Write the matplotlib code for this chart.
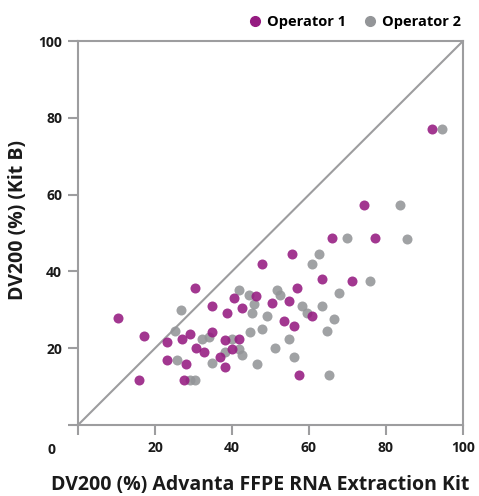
"""
DV200 comparison scatter: Advanta FFPE RNA Extraction Kit vs Kit B,
two operators, with identity line.
"""

import matplotlib
matplotlib.use("Agg")
import matplotlib.pyplot as plt
from matplotlib.lines import Line2D

plt.rcParams["font.family"] = ["Open Sans", "DejaVu Sans"]
plt.rcParams["font.weight"] = "bold"

# --- data ---
op1_x = [10.5, 17.2, 23.0, 26.9, 29.0, 30.6, 23.0, 28.1, 15.9, 27.5,
         30.3, 34.9, 34.9, 32.7, 38.8, 42.7, 38.2, 41.9, 40.1, 36.8,
         38.1, 40.6, 46.2, 47.9, 50.5, 53.5, 54.7, 56.1, 55.5, 56.8,
         57.4, 60.7, 63.3, 66.1, 71.2, 77.1, 74.3, 91.9]
op1_y = [27.9, 23.3, 21.7, 22.5, 23.7, 20.0, 17.0, 15.9, 11.7, 11.7,
         35.8, 31.1, 24.2, 18.9, 29.2, 30.6, 22.1, 22.3, 19.7, 17.6,
         15.2, 33.1, 33.7, 42.0, 31.9, 27.2, 32.4, 25.9, 44.6, 35.8,
         13.1, 28.5, 37.9, 48.6, 37.4, 48.6, 57.2, 77.2]

op2_x = [26.8, 25.1, 25.6, 29.1, 30.3, 32.1, 33.9, 34.7, 38.2, 39.9,
         41.9, 42.7, 44.7, 45.3, 41.9, 44.5, 45.7, 46.4, 47.9, 49.2,
         51.2, 51.8, 52.5, 54.8, 56.1, 58.1, 59.4, 60.7, 62.7, 63.3,
         64.7, 66.6, 65.3, 67.9, 70.0, 75.8, 83.6, 85.4, 94.5]
op2_y = [30.0, 24.5, 17.0, 11.7, 11.7, 22.3, 22.8, 16.1, 19.0, 22.4,
         19.8, 18.3, 24.2, 29.2, 35.1, 33.9, 31.6, 15.9, 25.0, 28.5,
         20.0, 35.2, 33.9, 22.4, 17.7, 31.1, 29.2, 42.0, 44.6, 31.1,
         24.5, 27.6, 13.1, 34.5, 48.6, 37.4, 57.2, 48.5, 77.2]

ticks = [0, 20, 40, 60, 80, 100]

PURPLE = "#951b81"
GRAY = "#939598"
AXIS_GRAY = "#9d9d9f"
TEXT = "#1a1a1a"

fig = plt.figure(figsize=(4.79, 4.96), dpi=100)
ax = fig.add_axes([0.1628, 0.1431, 0.8038, 0.7742])

ax.plot([0, 100], [0, 100], color=AXIS_GRAY, lw=1.5, zorder=1)
ax.scatter(op2_x, op2_y, s=52, color=GRAY, alpha=0.88, lw=0, zorder=2)
ax.scatter(op1_x, op1_y, s=52, color=PURPLE, alpha=0.88, lw=0, zorder=3)

ax.set_xlim(0, 100)
ax.set_ylim(0, 100)
ax.set_xticks(ticks)
ax.set_yticks(ticks)
ax.set_xticklabels([""] + [str(t) for t in ticks[1:]])
ax.set_yticklabels([""] + [str(t) for t in ticks[1:]])
# shared origin label sits in the bottom-left corner
ax.text(-0.068, -0.065, "0", transform=ax.transAxes, ha="center",
        va="center", fontsize=10, fontweight="bold", color=TEXT)

for s in ax.spines.values():
    s.set_color(AXIS_GRAY)
    s.set_linewidth(1.5)
ax.tick_params(length=7.5, width=1.5, color=AXIS_GRAY, labelsize=10,
               labelcolor=TEXT, pad=4)

ax.set_xlabel("DV200 (%) Advanta FFPE RNA Extraction Kit", fontsize=14,
              fontweight="bold", color=TEXT)
ax.set_ylabel("DV200 (%) (Kit B)", fontsize=14, fontweight="bold", color=TEXT)
ax.xaxis.set_label_coords(0.473, -0.13)
ax.yaxis.set_label_coords(-0.13, 0.535)

handles = [
    Line2D([], [], ls="", marker="o", ms=7, color=PURPLE, label="Operator 1"),
    Line2D([], [], ls="", marker="o", ms=7, color=GRAY, label="Operator 2"),
]
ax.legend(handles=handles, ncol=2, frameon=False, loc="lower right",
          bbox_to_anchor=(1.01, 1.015), fontsize=10.5, handletextpad=0.0,
          handlelength=1.6, columnspacing=0.9, borderaxespad=0.0)

fig.savefig("out.png", dpi=100)
